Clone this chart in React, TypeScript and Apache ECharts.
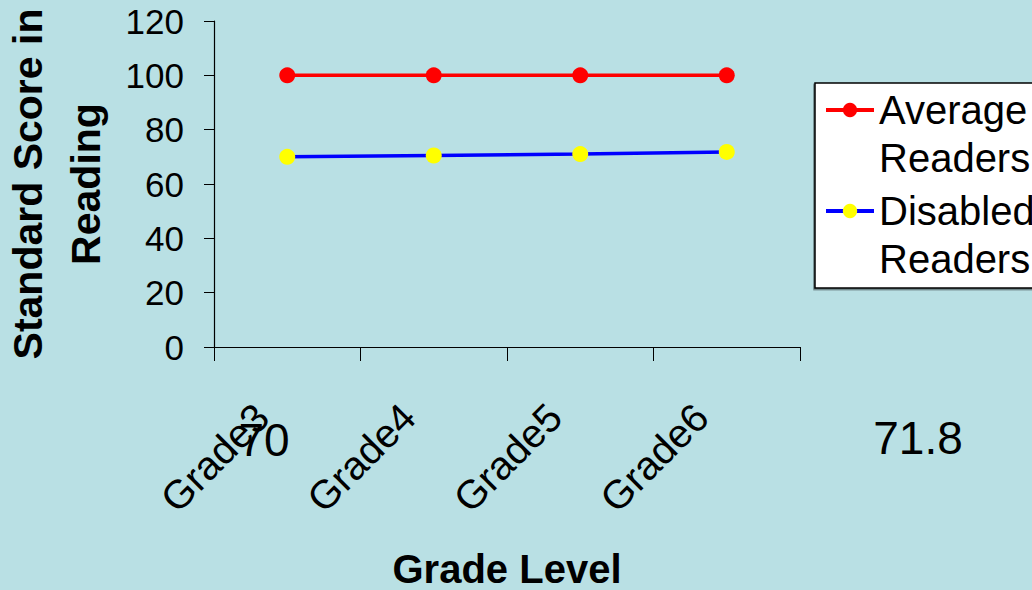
import React, { useEffect, useRef } from "react";
import * as echarts from "echarts";

const categories = ["Grade3", "Grade4", "Grade5", "Grade6"];
const averageReaders = [100, 100, 100, 100];
const disabledReaders = [70, 70.5, 71, 71.8];
const seriesNames = ["Average Readers", "Disabled Readers"];
const yTitle = "Standard Score in\nReading";
const xTitle = "Grade Level";
const strayLabels = [String(disabledReaders[0]), String(disabledReaders[3])];

const FONT = "'Liberation Sans', Arial, sans-serif";

export default function App() {
  const ref = useRef<HTMLDivElement>(null);
  useEffect(() => {
    document.body.style.margin = "0";
    const chart = echarts.init(ref.current!, null, { renderer: "svg" });
    chart.setOption({
      animation: false,
      backgroundColor: "#B9E0E4",
      textStyle: { fontFamily: FONT },
      grid: {
        left: 214,
        top: 21,
        width: 586,
        height: 326,
        containLabel: false,
        outerBoundsMode: "none",
      },
      legend: {
        orient: "vertical",
        left: 815,
        top: 83,
        padding: [-45, 40, 5, 9],
        itemGap: -43,
        itemWidth: 48,
        itemHeight: 18,
        backgroundColor: "#ffffff",
        borderColor: "#000000",
        borderWidth: 1.5,
        shadowColor: "rgba(0,0,0,0.45)",
        shadowOffsetX: -1,
        shadowOffsetY: 1.5,
        lineStyle: { width: 4 },
        formatter: (name: string) => "\n" + name.replace(" ", "\n"),
        textStyle: {
          fontSize: 40,
          lineHeight: 48,
          color: "#000",
          fontFamily: FONT,
        },
        data: seriesNames,
      },
      xAxis: {
        type: "category",
        data: categories,
        boundaryGap: true,
        name: xTitle,
        nameLocation: "middle",
        nameGap: 202,
        nameTextStyle: {
          fontSize: 40,
          fontWeight: "bold",
          color: "#000",
          lineHeight: 40,
          fontFamily: FONT,
        },
        axisLine: { show: true, lineStyle: { color: "#000", width: 1.2 } },
        axisTick: { show: true, length: 14, alignWithLabel: false, lineStyle: { color: "#000" } },
        axisLabel: {
          rotate: 45,
          fontSize: 40,
          color: "#000",
          margin: 38,
          padding: [0, 36, 0, 0],
          fontFamily: FONT,
        },
        splitLine: { show: false },
      },
      yAxis: {
        type: "value",
        min: 0,
        max: 120,
        interval: 20,
        name: yTitle,
        nameLocation: "middle",
        nameGap: 96,
        nameRotate: 90,
        nameTextStyle: {
          fontSize: 41,
          fontWeight: "bold",
          color: "#000",
          lineHeight: 58,
          fontFamily: FONT,
        },
        axisLine: { show: true, lineStyle: { color: "#000", width: 1.2 } },
        axisTick: { show: true, length: 10, lineStyle: { color: "#000" } },
        axisLabel: { fontSize: 35, color: "#000", margin: 30, fontFamily: FONT },
        splitLine: { show: false },
      },
      series: [
        {
          name: seriesNames[0],
          type: "line",
          data: averageReaders,
          symbol: "circle",
          symbolSize: 16,
          lineStyle: { color: "#FF0000", width: 3.5 },
          itemStyle: { color: "#FF0000" },
        },
        {
          name: seriesNames[1],
          type: "line",
          data: disabledReaders,
          symbol: "circle",
          symbolSize: 16,
          lineStyle: { color: "#0000FF", width: 3.5 },
          itemStyle: { color: "#FFFF00" },
        },
      ],
      graphic: [
        {
          type: "text",
          x: 264,
          y: 440,
          style: {
            text: strayLabels[0],
            fontSize: 46,
            fontFamily: FONT,
            fill: "#000",
            align: "center",
            verticalAlign: "middle",
          },
        },
        {
          type: "text",
          x: 918,
          y: 438,
          style: {
            text: strayLabels[1],
            fontSize: 46,
            fontFamily: FONT,
            fill: "#000",
            align: "center",
            verticalAlign: "middle",
          },
        },
      ],
    });
    return () => chart.dispose();
  }, []);
  return <div ref={ref} style={{ width: 1032, height: 590 }} />;
}
